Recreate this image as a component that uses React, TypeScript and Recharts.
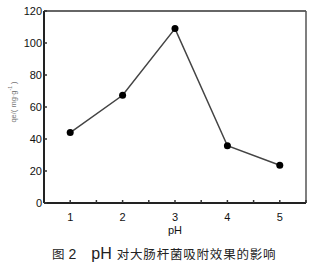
import { Line, LineChart, ReferenceLine, XAxis, YAxis } from "recharts";

const phValues = [1, 2, 3, 4, 5];
const qeValues = [44, 67.3, 109, 35.8, 23.6];
const xTicks = [0.5, 1, 1.5, 2, 2.5, 3, 3.5, 4, 4.5, 5, 5.5];
const yTicks = [0, 20, 40, 60, 80, 100, 120];

const data = phValues.map((ph, i) => ({ ph, qe: qeValues[i] }));

const tickFont = { fill: "#111", fontSize: 11, fontFamily: "'Liberation Sans', Arial, sans-serif" };

function YLabel() {
  return (
    <text
      x={13}
      y={102}
      transform="rotate(-90 13 102)"
      textAnchor="middle"
      dominantBaseline="central"
      fill="#777"
      fontSize={7.5}
      fontFamily="'Liberation Sans', Arial, sans-serif"
    >
      qe/( mg·g<tspan dy={-3} fontSize={5}>-1</tspan>
      <tspan dy={3}> )</tspan>
    </text>
  );
}

export default function App() {
  return (
    <div style={{ position: "absolute", left: 0, top: 0, width: 332, height: 278, background: "#fff" }}>
      <LineChart width={332} height={245} data={data} margin={{ top: 11, right: 26, bottom: 0, left: 0 }}>
        <XAxis
          dataKey="ph"
          type="number"
          domain={[0.5, 5.5]}
          ticks={xTicks}
          tickFormatter={(v: number) => (Number.isInteger(v) ? String(v) : "")}
          height={42}
          tickSize={-3}
          tickMargin={13}
          tick={tickFont}
          axisLine={{ stroke: "#222", strokeWidth: 2 }}
          tickLine={{ stroke: "#333", strokeWidth: 1.5 }}
          label={{ value: "pH", position: "insideTop", offset: 23, fill: "#111", fontSize: 11, fontFamily: "'Liberation Sans', Arial, sans-serif" }}
        />
        <YAxis
          type="number"
          domain={[0, 120]}
          ticks={yTicks}
          width={44}
          tickSize={-3}
          tickMargin={5}
          tick={tickFont}
          axisLine={{ stroke: "#222", strokeWidth: 2 }}
          tickLine={{ stroke: "#333", strokeWidth: 1.5 }}
          label={{ content: () => <YLabel /> }}
        />
        <ReferenceLine y={120} stroke="#333" strokeWidth={1.5} />
        <ReferenceLine x={5.5} stroke="#555" strokeWidth={1.5} />
        <Line
          dataKey="qe"
          stroke="#444"
          strokeWidth={1.5}
          dot={{ r: 3.5, fill: "#000", stroke: "#000", strokeWidth: 0 }}
          isAnimationActive={false}
        />
      </LineChart>
      <div
        style={{
          position: "absolute",
          left: 52,
          top: 246,
          whiteSpace: "nowrap",
          color: "#222",
          fontFamily: "'Noto Sans CJK SC', sans-serif",
          fontSize: 12.5,
          lineHeight: "16px",
        }}
      >
        <span>图</span>
        <span style={{ fontFamily: "'Liberation Sans', Arial, sans-serif", fontSize: 14, marginLeft: 4 }}>2</span>
        <span style={{ fontFamily: "'Liberation Sans', Arial, sans-serif", fontSize: 16, marginLeft: 15 }}>pH</span>
        <span style={{ letterSpacing: 0.8, marginLeft: 5 }}>对大肠杆菌吸附效果的影响</span>
      </div>
    </div>
  );
}
